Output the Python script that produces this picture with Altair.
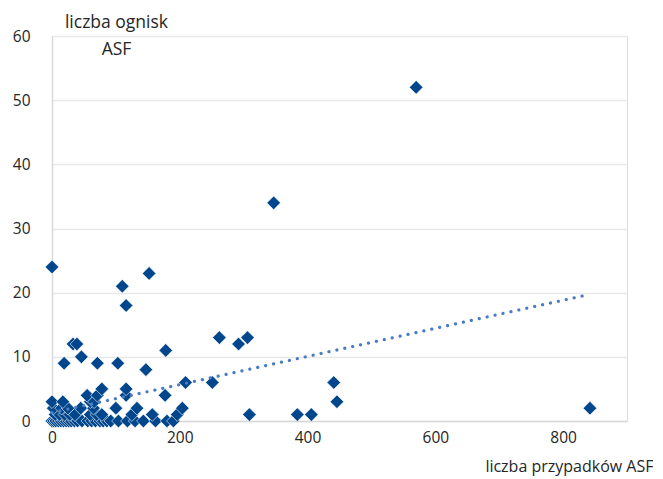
import altair as alt
import pandas as pd

# Scatter data: liczba przypadków ASF (x) vs liczba ognisk ASF (y)
x_vals = [0, 3, 6, 10, 14, 18, 22, 26, 30, 35, 40, 47, 56, 62, 68, 75, 80, 86, 92, 104, 118, 130, 143, 162, 180, 190,
          5, 12, 20, 28, 36, 60, 70, 78, 125, 157, 196, 309, 384, 406,
          2, 15, 25, 45, 65, 100, 133, 204, 842,
          0, 17, 60, 66, 446,
          55, 71, 116, 177,
          78, 116,
          209, 251, 441,
          147,
          19, 71, 103,
          46,
          178,
          33, 39, 292,
          262, 306,
          116, 110, 152, 0, 347, 570]
y_vals = [0] * 26 + [1] * 14 + [2] * 9 + [3] * 5 + [4] * 4 + [5] * 2 + [6] * 3 + [8] + [9] * 3 + [10] + [11] + \
         [12] * 3 + [13] * 2 + [18, 21, 23, 24, 34, 52]

# Linear trend line endpoints
trend_x = [0, 840]
trend_y = [1.3, 19.7]

pts = pd.DataFrame({"x": x_vals, "y": y_vals})
trend = pd.DataFrame({"x": trend_x, "y": trend_y})

FONT = "Open Sans"

xscale = alt.Scale(domain=[0, 900], nice=False, zero=True)
yscale = alt.Scale(domain=[0, 60], nice=False)

xaxis = alt.Axis(values=[0, 200, 400, 600, 800], grid=False, ticks=False, labelFlush=False,
                 domainColor="#D9D9D9", domainWidth=1.5,
                 labelFont=FONT, labelFontSize=15.5, labelColor="#262626", labelPadding=9,
                 title="liczba przypadków ASF", titleFont=FONT, titleFontSize=16,
                 titleFontWeight="normal", titleColor="#262626",
                 titleX=601, titleY=45, titleAlign="right", titleBaseline="middle")
yaxis = alt.Axis(values=[0, 10, 20, 30, 40, 50, 60], grid=True, gridColor="#E8E8E8", gridWidth=1.3,
                 ticks=False, domainColor="#D9D9D9", domainWidth=1.5, labelFlush=False,
                 labelFont=FONT, labelFontSize=15.5, labelColor="#262626", labelPadding=22,
                 title=["liczba ognisk", "ASF"], titleFont=FONT, titleFontSize=17.5,
                 titleFontWeight="normal", titleColor="#262626", titleAngle=0,
                 titleAlign="center", titleBaseline="middle", titleX=64, titleY=-14,
                 titleLineHeight=27)

points = alt.Chart(pts).mark_point(shape="diamond", filled=True, size=185, color="#00468C",
                                    stroke="white", strokeWidth=0.6, opacity=1).encode(
    x=alt.X("x:Q", scale=xscale, axis=xaxis),
    y=alt.Y("y:Q", scale=yscale, axis=yaxis),
)

line = alt.Chart(trend).mark_line(color="#4A7CC4", strokeWidth=3.2, strokeDash=[0.1, 8],
                                  strokeCap="round").encode(
    x=alt.X("x:Q", scale=xscale),
    y=alt.Y("y:Q", scale=yscale),
)

chart = alt.layer(points, line).properties(
    width=575, height=385,
    autosize=alt.AutoSizeParams(type="none"),
    padding={"left": 44, "top": 28, "right": 26, "bottom": 58},
).configure_view(stroke=None).configure(background="white")

chart.save("out.html", embed_options={"renderer": "svg", "actions": False})
